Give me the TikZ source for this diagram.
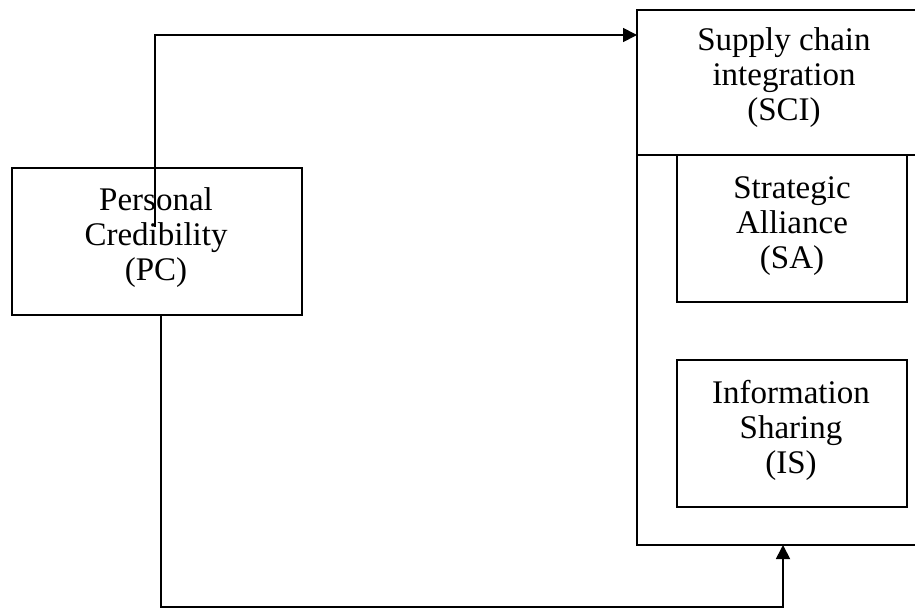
\documentclass[tikz,border=0pt]{standalone}
\usepackage{fontspec}
\setmainfont{Liberation Serif}
\usetikzlibrary{arrows.meta}
\begin{document}
\begin{tikzpicture}[x=1pt,y=-1pt,
  lw/.style={line width=1.8pt},
  box/.style={draw,lw,minimum width=#1,inner sep=0pt},
  lbl/.style={align=center,font=\fontsize{33}{35}\selectfont,inner sep=0pt},
  arr/.style={lw,-{Triangle[length=14pt,width=14pt]}}]
\useasboundingbox (0,0) rectangle (915,608);
% Personal Credibility
\node[box=290pt,minimum height=147pt] (pc) at (157,241.5) {};
\node[lbl] (pct) at (156,238) {Personal\\Credibility\\(PC)};
% SCI outer frame (open to the right)
\coordinate (sciTR) at (916,10);
\coordinate (sciTL) at (637,10);
\coordinate (sciBL) at (637,545);
\coordinate (sciBR) at (916,545);
\coordinate (divL) at (637,155);
\coordinate (divR) at (916,155);
\draw[lw] (sciTR) -- (sciTL) -- (sciBL) -- (sciBR);
\draw[lw] (divL) -- (divR);
\node[lbl] (sci) at (784,78) {Supply chain\\integration\\(SCI)};
% Strategic Alliance
\node[box=230pt,minimum height=147pt] (sa) at (792,228.5) {};
\node[lbl] (sat) at (792,226) {Strategic\\Alliance\\(SA)};
% Information Sharing
\node[box=230pt,minimum height=147pt] (is) at (792,433.5) {};
\node[lbl] (ist) at (791,430) {Information\\Sharing\\(IS)};
% connectors
\coordinate (start1) at (155,227);
\coordinate (bend1) at (155,35);
\coordinate (end1) at (637,35);
\draw[arr] (start1) -- (bend1) -- (end1);
\coordinate (start2) at (161,315);
\coordinate (b2a) at (161,607);
\coordinate (b2b) at (783,607);
\coordinate (end2) at (783,545);
\draw[arr] (start2) -- (b2a) -- (b2b) -- (end2);
\end{tikzpicture}
\end{document}
